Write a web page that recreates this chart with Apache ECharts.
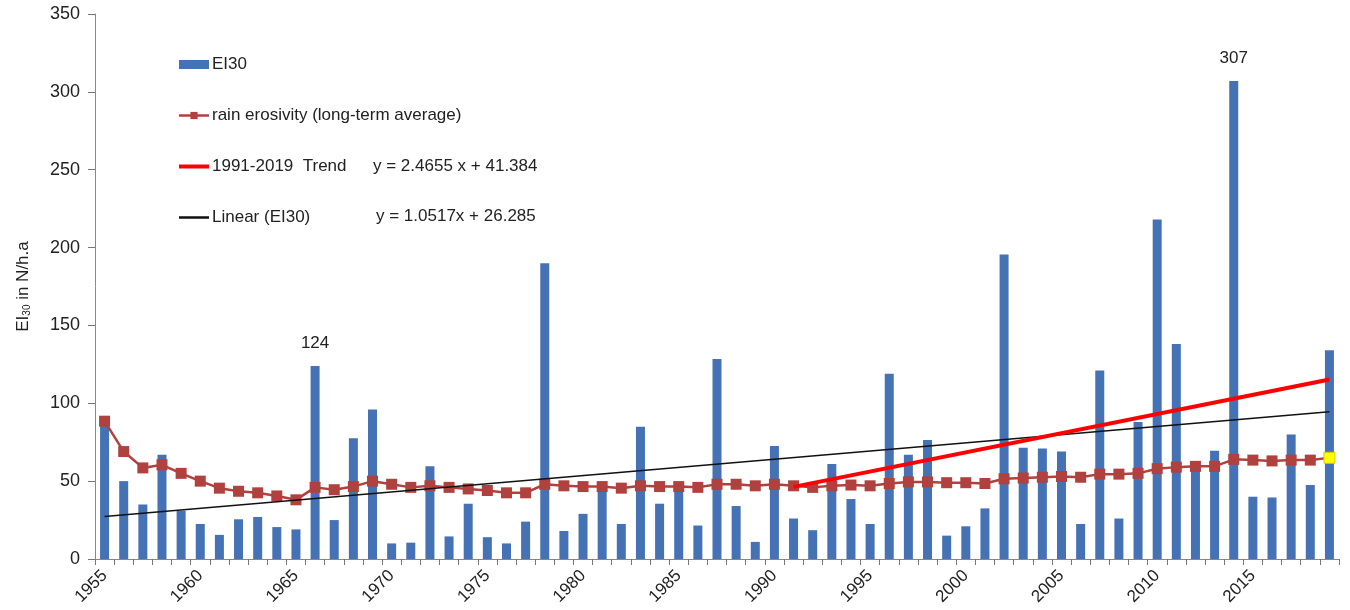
<!DOCTYPE html>
<html>
<head>
<meta charset="utf-8">
<script src="https://cdn.jsdelivr.net/npm/echarts@6/dist/echarts.min.js"></script>
<style>
  html, body {margin: 0; padding: 0; background: #fff;}
  #chart {width: 1350px; height: 610px;}
</style>
</head>
<body>
<div id="chart"></div>
<script>
// yearly values
const years = [
  "1955", "1956", "1957", "1958", "1959", "1960", "1961", "1962", "1963", "1964",
  "1965", "1966", "1967", "1968", "1969", "1970", "1971", "1972", "1973", "1974",
  "1975", "1976", "1977", "1978", "1979", "1980", "1981", "1982", "1983", "1984",
  "1985", "1986", "1987", "1988", "1989", "1990", "1991", "1992", "1993", "1994",
  "1995", "1996", "1997", "1998", "1999", "2000", "2001", "2002", "2003", "2004",
  "2005", "2006", "2007", "2008", "2009", "2010", "2011", "2012", "2013", "2014",
  "2015", "2016", "2017", "2018", "2019",
];
const ei30 = [
  88, 50, 35, 67, 31, 22.5, 15.5, 25.5, 27, 20.5,
  19, 124, 25, 77.5, 96, 10, 10.5, 59.5, 14.5, 35.5,
  14, 10, 24, 190, 18, 29, 45, 22.5, 85, 35.5,
  44, 21.5, 128.5, 34, 11, 72.5, 26, 18.5, 61, 38.5,
  22.5, 119, 67, 76.5, 15, 21, 32.5, 195.5, 71.5, 71,
  69, 22.5, 121, 26, 88, 218, 138, 59, 69.5, 307,
  40, 39.5, 80, 47.5, 134,
];
const longTermAvg = [
  88.5, 69, 58.5, 60.5, 55, 50, 45.5, 43.5, 42.5, 40.5,
  38, 46, 44.5, 46.5, 50, 48, 46, 47, 46, 45,
  44, 42.5, 42.5, 48, 47, 46.5, 46.5, 45.5, 47, 46.5,
  46.5, 46, 48, 48, 47, 48, 47, 46, 47, 47.5,
  47, 48.5, 49.5, 49.5, 49, 49, 48.5, 51.5, 52, 52.5,
  53, 52.5, 54.5, 54.5, 55, 58, 59, 59.5, 59.5, 64,
  63.5, 63, 63.5, 63.5, 65,
];
// trend lines: end points as drawn
const linearYears = ["1955", "2019"];
const linearValues = [27.3, 94.6];
const trendYears = ["1991", "2019"];
const trendValues = [46.3, 115.3];
const labelledYears = ["1966", "2014"];
const yTicks = [0, 50, 100, 150, 200, 250, 300, 350];

const chart = echarts.init(document.getElementById("chart"));
const font = "Liberation Sans, Arial, sans-serif";

const barData = ei30.map((v, i) => {
  if (labelledYears.includes(years[i])) {
    return {value: v, label: {show: true, position: "top", distance: 14, formatter: () => Math.round(v), fontSize: 17, color: "#222", fontFamily: font}};
  }
  return v;
});
const avgData = longTermAvg.map((v, i) => {
  if (i === longTermAvg.length - 1) {
    return {value: v, itemStyle: {color: "#ffff00", borderColor: "#e0c800", borderWidth: 1}};
  }
  return v;
});

const option = {
  animation: false,
  grid: {left: 95, right: 11, top: 14, bottom: 51},
  legend: {
    orient: "vertical", left: 172, top: 51, itemGap: 34,
    itemWidth: 30, itemHeight: 9,
    textStyle: {fontSize: 17, color: "#222", fontFamily: font, padding: [0, 0, 0, -2]},
    data: [
      {name: "EI30", icon: "rect", itemStyle: {color: "#4472b4"}},
      {name: "rain erosivity (long-term average)", lineStyle: {width: 2.5}},
      {name: "1991-2019  Trend", itemStyle: {opacity: 0}, lineStyle: {width: 4}},
      {name: "Linear (EI30)", itemStyle: {opacity: 0}, lineStyle: {width: 2.5}},
    ],
  },
  graphic: [
    {type: "text", left: 373, top: 158, style: {text: "y = 2.4655 x + 41.384", fontSize: 17, fill: "#222", fontFamily: font}},
    {type: "text", left: 376, top: 208, style: {text: "y = 1.0517x + 26.285", fontSize: 17, fill: "#222", fontFamily: font}},
  ],
  xAxis: {
    type: "category", data: years, boundaryGap: true,
    axisLine: {lineStyle: {color: "#888"}},
    axisTick: {show: true, interval: 0, length: 6, lineStyle: {color: "#777"}},
    axisLabel: {interval: 4, rotate: 45, fontSize: 17, color: "#222", fontFamily: font, margin: 14},
  },
  yAxis: {
    type: "value", min: yTicks[0], max: yTicks[yTicks.length - 1], interval: 50,
    name: "EI{s|30} in N/h.a", nameLocation: "middle", nameGap: 63, nameRotate: 90,
    nameTextStyle: {fontSize: 17, color: "#222", fontFamily: font, rich: {s: {fontSize: 10, fontFamily: font, color: "#222", padding: [8, 0, 0, 0]}}},
    axisLine: {show: true, lineStyle: {color: "#888"}},
    axisTick: {show: true, length: 7, lineStyle: {color: "#777"}},
    axisLabel: {fontSize: 18, color: "#222", fontFamily: font, margin: 15},
    splitLine: {show: false},
  },
  series: [
    {
      name: "EI30", type: "bar", data: barData, barWidth: 9,
      itemStyle: {color: "#4472b4"},
    },
    {
      name: "rain erosivity (long-term average)", type: "line", data: avgData,
      symbol: "rect", symbolSize: 11,
      lineStyle: {color: "#b0413e", width: 2.5},
      itemStyle: {color: "#b0413e"},
      z: 3,
    },
    {
      name: "Linear (EI30)", type: "line",
      data: linearYears.map((y, i) => [y, linearValues[i]]),
      symbol: "none", lineStyle: {color: "#111", width: 1.6},
      itemStyle: {color: "#111"}, z: 4,
    },
    {
      name: "1991-2019  Trend", type: "line",
      data: trendYears.map((y, i) => [y, trendValues[i]]),
      symbol: "none", lineStyle: {color: "#ff0000", width: 4},
      itemStyle: {color: "#ff0000"}, z: 5,
    },
  ],
};
chart.setOption(option);
</script>
</body>
</html>
